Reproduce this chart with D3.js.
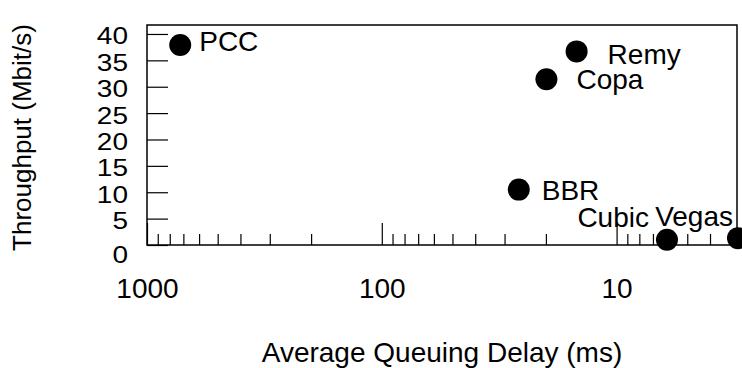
<!DOCTYPE html>
<html>
<head>
<meta charset="utf-8">
<script src="https://cdn.jsdelivr.net/npm/d3@7"></script>
<style>
  html, body { margin: 0; padding: 0; background: #fff; }
  svg { display: block; font-family: "Liberation Sans", Arial, Helvetica, sans-serif; }
</style>
</head>
<body>
<svg id="chart" width="742" height="368"></svg>
<script>
// ---- data ----
const names = ["PCC", "Remy", "Copa", "BBR", "Cubic", "Vegas"];
const delayMs = [722, 14.8, 19.9, 26.1, 6.1, 3.04];
const throughput = [37.9, 36.7, 31.4, 10.5, 1.0, 1.3];
const xTickValues = [1000, 100, 10];
const xTickLabels = ["1000", "100", "10"];
const yTickValues = [0, 5, 10, 15, 20, 25, 30, 35, 40];
const xTitle = "Average Queuing Delay (ms)";
const yTitle = "Throughput (Mbit/s)";

// ---- layout ----
const labelLayout = [
  { dx: 19, dy: 6, anchor: "start" },
  { dx: 31, dy: 13, anchor: "start" },
  { dx: 30, dy: 10, anchor: "start" },
  { dx: 23, dy: 10, anchor: "start" },
  { dx: -18, dy: -13, anchor: "end" },
  { dx: -5, dy: -12, anchor: "end" }
];
const L = 147, R = 737, T = 25, B = 245;

const svg = d3.select("#chart");
const x = d3.scaleLog().domain([1000, 3.07]).range([L, R]);
const y = d3.scaleLinear().domain([0, 41.7]).range([B, T]);

// minor ticks
const minor = [];
[100, 10, 1].forEach(base => {
  for (let k = 2; k <= 9; k++) {
    const v = base * k;
    if (v <= 1000 && v >= 3.07 && !xTickValues.includes(v)) minor.push(v);
  }
});

const gxMinor = svg.append("g").attr("transform", `translate(0,${B})`)
  .call(d3.axisBottom(x).tickValues(minor).tickSize(-11).tickFormat(""));
gxMinor.select(".domain").remove();
gxMinor.selectAll("line").attr("stroke", "#000").attr("stroke-width", 1.2);

const gx = svg.append("g").attr("transform", `translate(0,${B})`)
  .call(d3.axisBottom(x).tickValues(xTickValues).tickSize(-22).tickPadding(33)
    .tickFormat((d, i) => xTickLabels[i]));
gx.select(".domain").remove();
gx.selectAll("line").attr("stroke", "#000").attr("stroke-width", 1.2);
gx.selectAll("text").attr("font-size", 28).attr("fill", "#000")
  .attr("font-family", "'Liberation Sans', Arial, Helvetica, sans-serif");

const gy = svg.append("g").attr("transform", `translate(${L},0)`)
  .call(d3.axisLeft(y).tickValues(yTickValues).tickSize(-21).tickPadding(19));
gy.select(".domain").remove();
gy.selectAll("line").attr("stroke", "#000").attr("stroke-width", 1.2);
gy.selectAll(".tick text")
  .attr("font-size", 28).attr("fill", "#000")
  .attr("font-family", "'Liberation Sans', Arial, Helvetica, sans-serif")
  .attr("dy", null).attr("x", null)
  .attr("transform", d => `translate(-19,${d === 0 ? 17 : 10}) scale(1,0.88)`);

// frame
svg.append("rect").attr("x", L).attr("y", T).attr("width", R - L).attr("height", B - T)
  .attr("fill", "none").attr("stroke", "#000").attr("stroke-width", 1.5);

// points
const data = names.map((n, i) => ({ name: n, x: delayMs[i], y: throughput[i], lay: labelLayout[i] }));
svg.append("g").selectAll("circle").data(data).join("circle")
  .attr("cx", d => x(d.x)).attr("cy", d => y(d.y)).attr("r", 11).attr("fill", "#000");

svg.append("g").selectAll("text").data(data).join("text")
  .attr("x", d => x(d.x) + d.lay.dx).attr("y", d => y(d.y) + d.lay.dy)
  .attr("text-anchor", d => d.lay.anchor).attr("font-size", 28).attr("fill", "#000")
  .text(d => d.name);

// titles
svg.append("text").attr("x", 442).attr("y", 362).attr("text-anchor", "middle")
  .attr("font-size", 28).attr("fill", "#000").text(xTitle);
svg.append("text").attr("transform", "translate(31,137.5) rotate(-90)")
  .attr("text-anchor", "middle").attr("font-size", 26).attr("fill", "#000").text(yTitle);
</script>
</body>
</html>
